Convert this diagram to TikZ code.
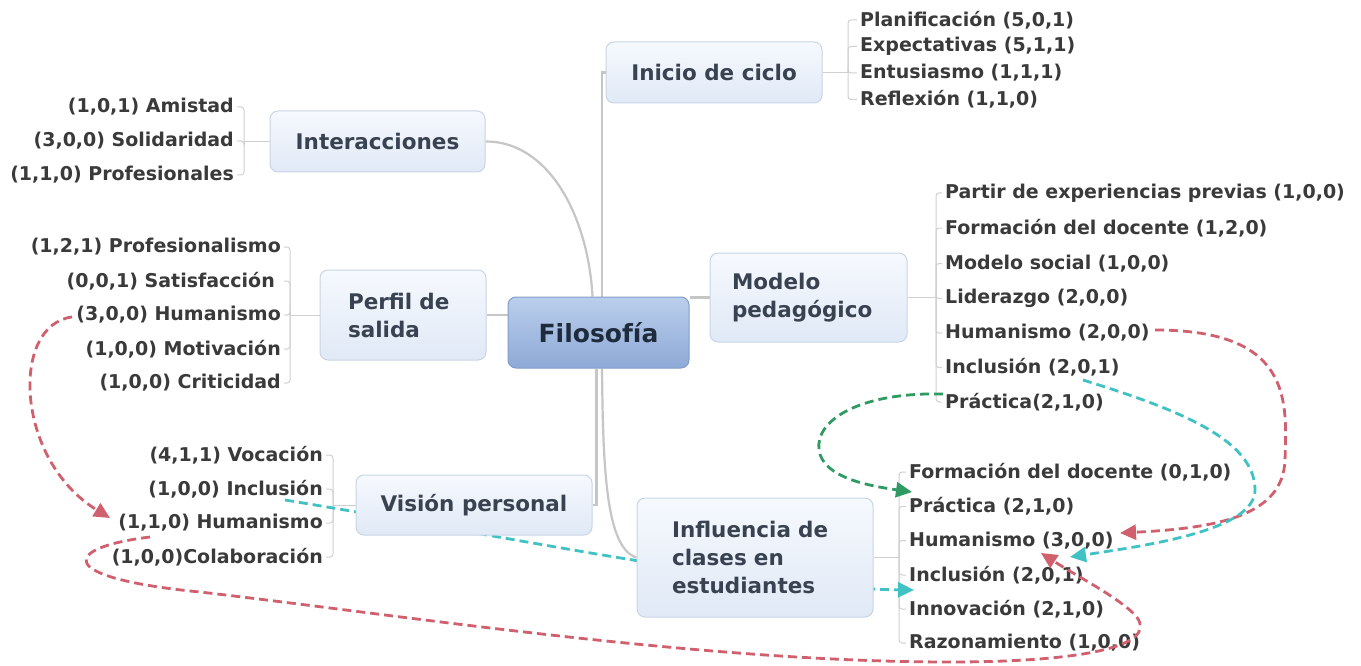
\documentclass[tikz,border=0pt]{standalone}
\usepackage{fontspec}
\setmainfont{DejaVu Sans}
\usetikzlibrary{arrows.meta}
\pgfdeclarelayer{bg}
\pgfdeclarelayer{paper}
\pgfsetlayers{paper,bg,main}
\definecolor{leaftxt}{HTML}{3A3A3A}
\definecolor{boxtxt}{HTML}{394250}
\definecolor{boxtop}{HTML}{F6F9FE}
\definecolor{boxbot}{HTML}{E0E9F6}
\definecolor{boxline}{HTML}{C9D5E6}
\definecolor{ctop}{HTML}{BBCFEC}
\definecolor{cbot}{HTML}{8DA9D6}
\definecolor{cline}{HTML}{809DC9}
\definecolor{ctxt}{HTML}{1E2B3C}
\definecolor{conn}{HTML}{C6C6C6}
\definecolor{brk}{HTML}{D0D0D0}
\definecolor{dred}{HTML}{D0606E}
\definecolor{dcyan}{HTML}{40C2C4}
\definecolor{dgreen}{HTML}{2F9A62}
\begin{document}
\begin{tikzpicture}[x=1pt,y=-1pt,
  box/.style={draw=boxline, line width=1pt, rounded corners=8pt,
    top color=boxtop, bottom color=boxbot,
    font=\fontsize{21.5}{28}\selectfont\bfseries, text=boxtxt, inner sep=0pt},
  leaf/.style={font=\fontsize{19}{23}\selectfont\bfseries, text=leaftxt,
    inner xsep=0pt, inner ysep=1pt},
  link/.style={draw=conn, line width=2.2pt},
  bracket/.style={draw=brk, line width=1pt, rounded corners=3pt},
  dashlink/.style={line width=2.8pt, dash pattern=on 9pt off 5pt,
    -{Triangle[length=16pt,width=15pt]}},
]
\begin{pgfonlayer}{paper}
\fill[white] (0,0) rectangle (1361,666);
\end{pgfonlayer}
\useasboundingbox (0,0) rectangle (1361,666);

% ---- boxes
\node[box, minimum width=181pt, minimum height=71pt, top color=ctop,
  bottom color=cbot, draw=cline, text=ctxt,
  font=\fontsize{25}{30}\selectfont\bfseries] (fil) at (598.5,332.5) {Filosofía};
\node[box, minimum width=216pt, minimum height=61pt] (ini) at (714,72.5) {Inicio de ciclo};
\node[box, minimum width=215pt, minimum height=61pt] (int) at (377.5,141.5) {Interacciones};
\node[box, minimum width=166pt, minimum height=90pt, text width=110pt, align=left]
  (per) at (403,315) {Perfil de\\salida};
\node[box, minimum width=197pt, minimum height=89pt, text width=153pt, align=left]
  (mod) at (808.5,297.5) {Modelo\\pedagógico};
\node[box, minimum width=236pt, minimum height=60pt] (vis) at (474,505) {Visión personal};
\node[box, minimum width=236pt, minimum height=119pt, text width=166pt, align=left]
  (inf) at (755,557.5) {Influencia de\\clases en\\estudiantes};

% ---- leaves: Inicio de ciclo
\node[leaf, anchor=west] (i1) at (860,20) {Planificación (5,0,1)};
\node[leaf, anchor=west] (i2) at (860,46.5) {Expectativas (5,1,1)};
\node[leaf, anchor=west] (i3) at (860,73) {Entusiasmo (1,1,1)};
\node[leaf, anchor=west] (i4) at (860,99.5) {Reflexión (1,1,0)};
% Interacciones
\node[leaf, anchor=east] (n1) at (234,107) {(1,0,1) Amistad};
\node[leaf, anchor=east] (n2) at (234,141) {(3,0,0) Solidaridad};
\node[leaf, anchor=east] (n3) at (234,175) {(1,1,0) Profesionales};
% Perfil de salida
\node[leaf, anchor=east] (p1) at (281,247) {(1,2,1) Profesionalismo};
\node[leaf, anchor=east] (p2) at (275,281) {(0,0,1) Satisfacción};
\node[leaf, anchor=east] (p3) at (281,315) {(3,0,0) Humanismo};
\node[leaf, anchor=east] (p4) at (281,349) {(1,0,0) Motivación};
\node[leaf, anchor=east] (p5) at (281,383) {(1,0,0) Criticidad};
% Vision personal
\node[leaf, anchor=east] (v1) at (323,455) {(4,1,1) Vocación};
\node[leaf, anchor=east] (v2) at (323,489) {(1,0,0) Inclusión};
\node[leaf, anchor=east] (v3) at (323,523) {(1,1,0) Humanismo};
\node[leaf, anchor=east] (v4) at (323,557) {(1,0,0)Colaboración};
% Modelo pedagogico
\node[leaf, anchor=west] (m1) at (945,193) {Partir de experiencias previas (1,0,0)};
\node[leaf, anchor=west] (m2) at (945,228) {Formación del docente (1,2,0)};
\node[leaf, anchor=west] (m3) at (945,263.5) {Modelo social (1,0,0)};
\node[leaf, anchor=west] (m4) at (945,298.5) {Liderazgo (2,0,0)};
\node[leaf, anchor=west] (m5) at (945,333) {Humanismo (2,0,0)};
\node[leaf, anchor=west] (m6) at (945,367.5) {Inclusión (2,0,1)};
\node[leaf, anchor=west] (m7) at (945,402) {Práctica(2,1,0)};
% Influencia
\node[leaf, anchor=west] (f1) at (909,472) {Formación del docente (0,1,0)};
\node[leaf, anchor=west] (f2) at (909,506.5) {Práctica (2,1,0)};
\node[leaf, anchor=west] (f3) at (909,540.5) {Humanismo (3,0,0)};
\node[leaf, anchor=west] (f4) at (909,575) {Inclusión (2,0,1)};
\node[leaf, anchor=west] (f5) at (909,609) {Innovación (2,1,0)};
\node[leaf, anchor=west] (f6) at (909,643) {Razonamiento (1,0,0)};

% ---- bracket junctions
\coordinate (ib) at (848,72.5);
\coordinate (nb) at (244,141.5);
\coordinate (pb) at (290,315);
\coordinate (vb) at (333,505);
\coordinate (mb) at (936,297.5);
\coordinate (fb) at (899,557.5);

% ---- free ends of dashed links
\coordinate (r1s) at (72,317);
\coordinate (r1e) at (110,518);
\coordinate (r2s) at (1155,330);
\coordinate (r2e) at (1120,533);
\coordinate (c1s) at (1083,380);
\coordinate (c1e) at (1070,557);
\coordinate (g1s) at (943,394);
\coordinate (g1e) at (912,492);
\coordinate (c2s) at (285,500);
\coordinate (c2e) at (914,590);
\coordinate (r3s) at (150,537);
\coordinate (r3e) at (1041,553);

\begin{pgfonlayer}{bg}
  % main links
  \draw[link] ([xshift=3.5pt]fil.north) |- (ini.west);
  \draw[link] (int.east) .. controls (548,141) and (588,215) .. ([xshift=-6pt]fil.north);
  \draw[link] (per.east) -- (per.east -| fil.west);
  \draw[link] (fil.east |- mod.west) -- (mod.west);
  \draw[link] ([xshift=-2pt]fil.south) |- (vis.east);
  \draw[link] ([xshift=3.5pt]fil.south) .. controls (603,470) and (606,548) .. (inf.west);
  % brackets
  \draw[bracket] (ini.east) -- (ib);
  \foreach \c in {i1,i2,i3,i4} \draw[bracket] (ib) |- ([xshift=-3pt]\c.west);
  \draw[bracket] (int.west) -- (nb);
  \foreach \c in {n1,n2,n3} \draw[bracket] (nb) |- ([xshift=3pt]\c.east);
  \draw[bracket] (per.west) -- (pb);
  \foreach \c in {p1,p3,p4,p5} \draw[bracket] (pb) |- ([xshift=3pt]\c.east);
  \draw[bracket] (pb) |- ([xshift=9pt]p2.east);
  \draw[bracket] (vis.west) -- (vb);
  \foreach \c in {v1,v2,v3,v4} \draw[bracket] (vb) |- ([xshift=3pt]\c.east);
  \draw[bracket] (mod.east) -- (mb);
  \foreach \c in {m1,m2,m3,m4,m5,m6,m7} \draw[bracket] (mb) |- ([xshift=-3pt]\c.west);
  \draw[bracket] (inf.east) -- (fb);
  \foreach \c in {f1,f2,f3,f4,f5,f6} \draw[bracket] (fb) |- ([xshift=-3pt]\c.west);
  % cyan link behind boxes
  \draw[dashlink, draw=dcyan] (c2s) .. controls (500,535) and (750,588) .. (c2e);
\end{pgfonlayer}

% ---- dashed cross links
\draw[dashlink, draw=dred] (r1s) .. controls (10,325) and (15,460) .. (r1e);
\draw[dashlink, draw=dred] (r2s) .. controls (1292,330) and (1287,400) .. (1285,460)
   .. controls (1283,515) and (1220,528) .. (r2e);
\draw[dashlink, draw=dcyan] (c1s) .. controls (1180,410) and (1255,440) .. (1255,490)
   .. controls (1255,530) and (1150,545) .. (c1e);
\draw[dashlink, draw=dgreen] (g1s) .. controls (860,392) and (815,420) .. (819,450)
   .. controls (823,478) and (870,486) .. (g1e);
\draw[dashlink, draw=dred] (r3s) .. controls (60,548) and (55,578) .. (200,592)
   .. controls (400,615) and (700,662) .. (950,662)
   .. controls (1100,662) and (1165,642) .. (1132,612)
   .. controls (1112,594) and (1080,578) .. (r3e);
\end{tikzpicture}
\end{document}
